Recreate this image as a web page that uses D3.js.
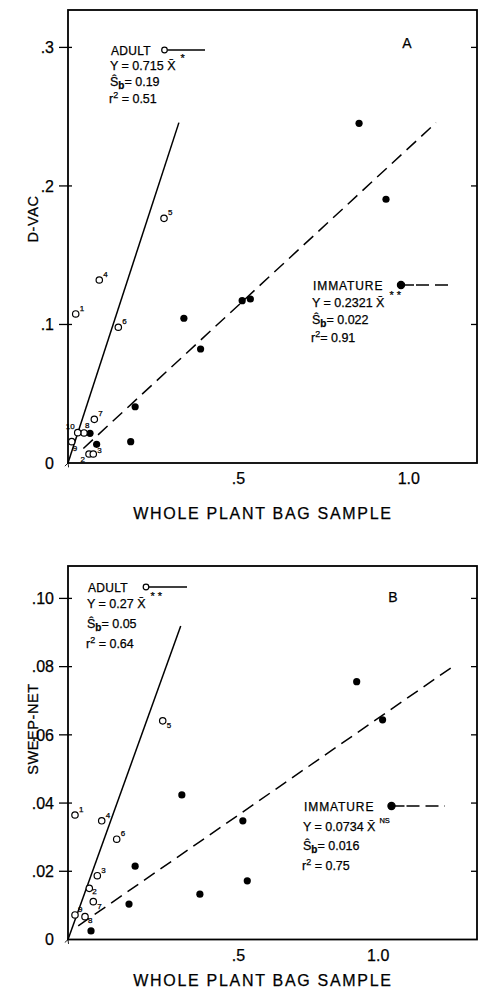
<!DOCTYPE html>
<html><head><meta charset="utf-8">
<script src="https://cdn.jsdelivr.net/npm/d3@7"></script>
<style>
html,body{margin:0;padding:0;background:#fff;}
svg{display:block;font-family:"Liberation Sans",Arial,sans-serif;}
svg text{stroke:#000;stroke-width:0.25px;}
</style></head>
<body>
<script>
// ---------- DATA ----------
// Panel A (D-VAC vs whole plant bag sample)
const adultA_ids = ["1","2","3","4","5","6","7","8","9","10"];
const adultA_x   = [0.0226,0.0616,0.0742,0.0918,0.2817,0.1476,0.0772,0.047,0.0109,0.0285];
const adultA_y   = [0.1076,0.0065,0.0065,0.1321,0.1766,0.098,0.0315,0.0217,0.0154,0.0219];
const immA_x     = [0.854,0.933,0.340,0.389,0.511,0.535,0.197,0.184,0.0646,0.084];
const immA_y     = [0.2452,0.1904,0.1045,0.0823,0.1172,0.1184,0.0406,0.0154,0.0214,0.0135];
const adultLineA = [[0,0],[0.3254,0.2457]];
const immLineA   = [[0.045,0.0105],[1.080,0.2457]];
// Panel B (SWEEP-NET vs whole plant bag sample)
const adultB_ids = ["1","2","3","4","5","6","7","8","9"];
const adultB_x   = [0.0205,0.0625,0.086,0.0989,0.2779,0.1429,0.0742,0.0499,0.0205];
const adultB_y   = [0.0365,0.0150,0.0187,0.0348,0.0641,0.0294,0.0111,0.0067,0.0072];
const immB_x     = [0.847,0.923,0.334,0.387,0.513,0.526,0.197,0.179,0.0675];
const immB_y     = [0.0756,0.0644,0.0424,0.0133,0.0348,0.0172,0.0215,0.0104,0.0025];
const adultLineB = [[0,0],[0.3307,0.0919]];
const immLineB   = [[0.03,0.004],[1.123,0.0796]];
// Ticks
const yTicksA = [0.1,0.2,0.3];
const yTickLabelsA = ["0",".1",".2",".3"];
const yTicksB = [0.02,0.04,0.06,0.08,0.10];
const yTickLabelsB = ["0",".02",".04",".06",".08",".10"];
const xTickLabels = [".5","1.0"];
const xTickValuesA = [0.5,1.0];
const xTickValuesB = [0.5,0.91]; // hand-lettered position in original
// Legend texts
const legendA = {adult:{eq:"Y = 0.715 ", sig:"*", sb:"= 0.19", r2:" = 0.51"},
                 imm:{eq:"Y = 0.2321 ", sig:"* *", sb:"= 0.022", r2:"= 0.91"}};
const legendB = {adult:{eq:"Y = 0.27 ", sig:"* *", sb:"= 0.05", r2:" = 0.64"},
                 imm:{eq:"Y = 0.0734 ", sig:"NS", sb:"= 0.016", r2:" = 0.75"}};

// ---------- LAYOUT / STYLE ----------
const W = 478, H = 992;
const svg = d3.select("body").append("svg").attr("width",W).attr("height",H);
const defs = svg.append("defs");
defs.append("marker").attr("id","arr").attr("viewBox","0 0 10 10")
  .attr("refX",1).attr("refY",5).attr("markerWidth",5).attr("markerHeight",5)
  .attr("orient","auto-start-reverse").attr("markerUnits","userSpaceOnUse")
  .append("path").attr("d","M9,1 L1,5 L9,9").attr("fill","none").attr("stroke","#000").attr("stroke-width",1.6);

const labelOffA = {"1":[4,-3,"start"],"2":[-4,8,"end"],"3":[4,-1,"start"],"4":[4,-3,"start"],"5":[4,-3,"start"],
  "6":[4,-3,"start"],"7":[4,-3,"start"],"8":[1,-5,"start"],"9":[1,9,"start"],"10":[-3,-4,"end"]};
const labelOffB = {"1":[4,-3,"start"],"2":[3,6,"start"],"3":[4,-3,"start"],"4":[4,-3,"start"],"5":[4,7,"start"],
  "6":[4,-3,"start"],"7":[4,7,"start"],"8":[3,6,"start"],"9":[3,-3,"start"]};

function panel(cfg){
  const g = svg.append("g");
  const x = d3.scaleLinear().domain([0,1.2]).range([68,477]);
  const y = d3.scaleLinear().domain(cfg.ydom).range([cfg.bottom,cfg.top]);
  // frame
  g.append("rect").attr("x",x(0)).attr("y",y(cfg.ydom[1])).attr("width",x(1.2)-x(0))
    .attr("height",y(0)-y(cfg.ydom[1])).attr("fill","none").attr("stroke","#000").attr("stroke-width",1.8);
  // y ticks (left crossing frame, right inward)
  cfg.yTicks.forEach(v=>{
    g.append("line").attr("x1",x(0)-9).attr("x2",x(0)+4).attr("y1",y(v)).attr("y2",y(v)).attr("stroke","#000").attr("stroke-width",1.3);
    g.append("line").attr("x1",x(1.2)-6).attr("x2",x(1.2)).attr("y1",y(v)).attr("y2",y(v)).attr("stroke","#000").attr("stroke-width",1.3);
  });
  const yl = [0].concat(cfg.yTicks);
  yl.forEach((v,i)=>{
    g.append("text").attr("x",54).attr("y",y(v)).attr("dy","0.36em").attr("text-anchor","end")
      .attr("font-size",16).attr("stroke-width",0).text(cfg.yTickLabels[i]);
  });
  cfg.xTickValues.forEach((v,i)=>{
    g.append("text").attr("x",x(v)).attr("y",y(0)+21).attr("text-anchor","middle")
      .attr("font-size",16).attr("stroke-width",0).text(xTickLabels[i]);
  });
  // axis titles
  g.append("text").attr("x",263).attr("y",cfg.xTitleY).attr("text-anchor","middle")
    .attr("font-size",16).attr("letter-spacing",1.7).attr("stroke-width",0).text("WHOLE PLANT BAG SAMPLE");
  g.append("text").attr("transform",`translate(38,${cfg.yTitleY}) rotate(-90)`).attr("text-anchor","middle")
    .attr("font-size",14.5).attr("letter-spacing",0.6).attr("stroke-width",0).text(cfg.yTitle);
  // panel letter
  g.append("text").attr("x",cfg.letterX).attr("y",cfg.letterY).attr("text-anchor","middle")
    .attr("font-size",14).attr("stroke-width",0).text(cfg.letter);
  // regression lines
  const line = d3.line().x(d=>x(d[0])).y(d=>y(d[1]));
  g.append("path").attr("d",line(cfg.adultLine)).attr("fill","none").attr("stroke","#000")
    .attr("stroke-width",1.5).attr("marker-start","url(#arr)");
  g.append("path").attr("d",line(cfg.immLine)).attr("fill","none").attr("stroke","#000")
    .attr("stroke-width",1.5).attr("stroke-dasharray","13,7");
  // immature points
  cfg.immX.forEach((v,i)=>{
    g.append("circle").attr("cx",x(v)).attr("cy",y(cfg.immY[i])).attr("r",3.6).attr("fill","#000");
  });
  // adult points
  cfg.adultX.forEach((v,i)=>{
    const cx = x(v), cy = y(cfg.adultY[i]);
    g.append("circle").attr("cx",cx).attr("cy",cy).attr("r",3.2).attr("fill","#fff")
      .attr("stroke","#000").attr("stroke-width",1.2);
    const o = cfg.labelOff[cfg.ids[i]];
    g.append("text").attr("x",cx+o[0]).attr("y",cy+o[1]).attr("text-anchor",o[2])
      .attr("font-size",8).attr("stroke-width",0.15).text(cfg.ids[i]);
  });
  // legends
  function legend(L, lx, ly, filled, dashed, supSmall){
    const f = 12.5;
    g.append("text").attr("x",lx).attr("y",ly[0]).attr("font-size",12).attr("letter-spacing",filled?0.9:0.3).text(filled?"IMMATURE":"ADULT");
    g.append("circle").attr("cx",L.cx).attr("cy",ly[0]-5).attr("r",filled?3.6:2.8)
      .attr("fill",filled?"#000":"#fff").attr("stroke","#000").attr("stroke-width",1.2);
    if(dashed){
      g.append("line").attr("x1",L.cx).attr("x2",L.cx+13).attr("y1",ly[0]-5).attr("y2",ly[0]-5).attr("stroke","#000").attr("stroke-width",1.5);
      g.append("line").attr("x1",L.cx+15).attr("x2",L.end).attr("y1",ly[0]-5).attr("y2",ly[0]-5).attr("stroke","#000").attr("stroke-width",1.5).attr("stroke-dasharray","13,6");
    } else {
      g.append("line").attr("x1",L.cx+3).attr("x2",L.end).attr("y1",ly[0]-5).attr("y2",ly[0]-5).attr("stroke","#000").attr("stroke-width",1.5);
    }
    const t = g.append("text").attr("x",lx-1).attr("y",ly[1]).attr("font-size",f);
    t.append("tspan").text(L.txt.eq);
    t.append("tspan").text("X\u0304");
    t.append("tspan").attr("dx",supSmall?4:5).attr("dy",-8).attr("font-size",supSmall?7.5:11).text(L.txt.sig);
    const s = g.append("text").attr("x",lx-1).attr("y",ly[2]).attr("font-size",f);
    s.append("tspan").text("\u015C");
    s.append("tspan").attr("dy",3).attr("font-size",10).attr("font-weight","bold").text("b");
    s.append("tspan").attr("dy",-3).text(L.txt.sb);
    const r = g.append("text").attr("x",lx-2).attr("y",ly[3]).attr("font-size",f);
    r.append("tspan").text("r");
    r.append("tspan").attr("dy",-5).attr("font-size",9).text("2");
    r.append("tspan").attr("dy",5).text(L.txt.r2);
  }
  legend({txt:cfg.leg.adult, cx:cfg.adultLeg.cx, end:cfg.adultLeg.end}, cfg.adultLeg.x, cfg.adultLeg.ys, false, false, false);
  legend({txt:cfg.leg.imm, cx:cfg.immLeg.cx, end:cfg.immLeg.end}, cfg.immLeg.x, cfg.immLeg.ys, true, true, cfg.letter==="B");
}

panel({ydom:[0,0.327], top:10, bottom:463, yTicks:yTicksA, yTickLabels:yTickLabelsA,
  xTickValues:xTickValuesA, xTitleY:519, yTitle:"D-VAC", yTitleY:219, letter:"A", letterX:407, letterY:48,
  adultLine:adultLineA, immLine:immLineA, immX:immA_x, immY:immA_y, adultX:adultA_x, adultY:adultA_y,
  ids:adultA_ids, labelOff:labelOffA, leg:legendA,
  adultLeg:{x:111, ys:[55,70,85.5,103], cx:164.5, end:205},
  immLeg:{x:313, ys:[290,307,324,342], cx:401, end:452}});

panel({ydom:[0,0.1095], top:566, bottom:939.5, yTicks:yTicksB, yTickLabels:yTickLabelsB,
  xTickValues:xTickValuesB, xTitleY:986, yTitle:"SWEEP-NET", yTitleY:729, letter:"B", letterX:393, letterY:602,
  adultLine:adultLineB, immLine:immLineB, immX:immB_x, immY:immB_y, adultX:adultB_x, adultY:adultB_y,
  ids:adultB_ids, labelOff:labelOffB, leg:legendB,
  adultLeg:{x:88, ys:[592,607.5,628,648], cx:146, end:187},
  immLeg:{x:304, ys:[811,831,850,870], cx:391.5, end:445}});
</script>
</body></html>
